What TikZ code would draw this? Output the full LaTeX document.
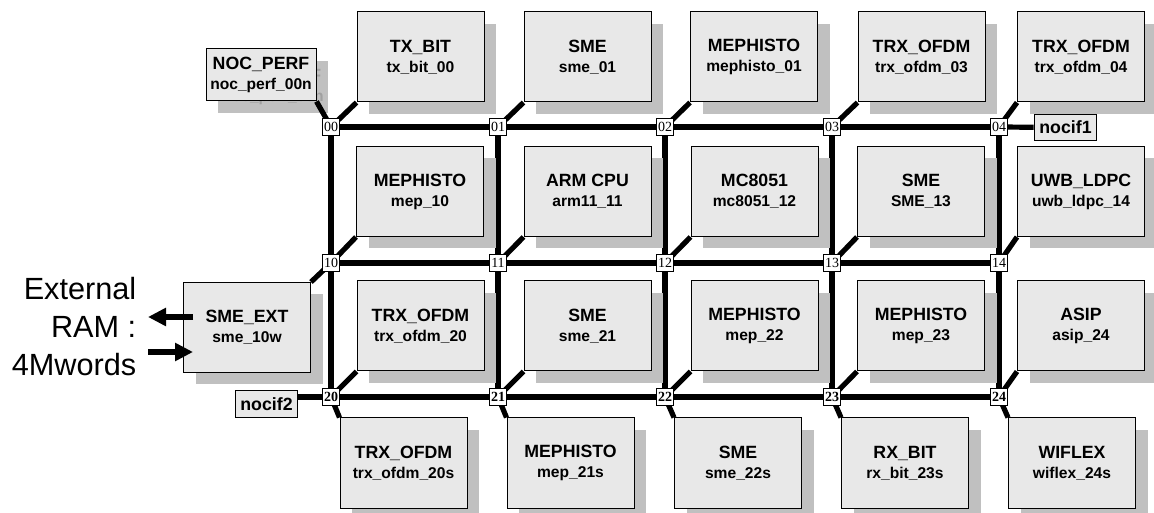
\documentclass[tikz,border=0pt]{standalone}
\usepackage{fontspec}
\setmainfont{Liberation Sans}
\newfontfamily\routerfont{Liberation Serif}
\usetikzlibrary{positioning,arrows.meta,shadows}

\definecolor{corefill}{RGB}{232,232,232}
\definecolor{shadefill}{RGB}{192,192,192}
\definecolor{ghosttext}{RGB}{160,160,160}

\newcommand\subline[1]{{\fontsize{11.7}{15}\selectfont #1}}

\tikzset{
  every core/.style={draw, line width=0.75pt, fill=corefill, minimum width=95.25pt, minimum height=67.5pt, inner sep=0pt, align=center, font=\bfseries\fontsize{13.3}{15}\selectfont, drop shadow={shadow xshift=9pt, shadow yshift=-9pt, fill=shadefill, opacity=1}},
  every router/.style={draw, line width=0.6pt, fill=white, minimum size=12.5pt, inner sep=0pt, font=\routerfont\fontsize{10.5}{10.5}\selectfont},
  router 2/.style={font=\routerfont\bfseries\fontsize{10.5}{10.5}\selectfont},
  every port/.style={draw, line width=0.75pt, fill=corefill, minimum width=47pt, minimum height=20pt, inner sep=0pt, align=center, font=\bfseries\fontsize{13.3}{15}\selectfont},
  bus/.style={line width=3.9pt},
}

\begin{document}
\begin{tikzpicture}[x=0.75pt, y=-0.75pt, >={Triangle[length=13.5pt, width=13pt]}]
\useasboundingbox (0,0) rectangle (1154,513);

\foreach \r/\y in {0/127,1/263,2/397}
  \foreach \c in {0,...,4}
    \coordinate (p-\r\c) at (331+167*\c,\y);

\foreach \r in {0,1,2}
  \draw [bus] (p-\r0) -- (p-\r4);

\foreach \c in {0,...,4}
  \draw [bus] (p-0\c) -- (p-2\c);

\foreach \t/\s/\x [count=\c from 0] in {TX\_BIT/tx\_bit\_00/420.5, SME/sme\_01/587.5, MEPHISTO/mephisto\_01/754, TRX\_OFDM/trx\_ofdm\_03/921.5, TRX\_OFDM/trx\_ofdm\_04/1081}
  \node [every core/.try] (top-\c) at (\x,57) {\t\\\subline{\s}};

\foreach \t/\s/\x [count=\c from 0] in {MEPHISTO/mep\_10/420, ARM CPU/arm11\_11/587.5, MC8051/mc8051\_12/754.5, SME/SME\_13/921, UWB\_LDPC/uwb\_ldpc\_14/1081}
  \node [every core/.try] (mid-\c) at (\x,191.5) {\t\\\subline{\s}};

\foreach \t/\s/\x [count=\c from 0] in {TRX\_OFDM/trx\_ofdm\_20/420.5, SME/sme\_21/587.5, MEPHISTO/mep\_22/754.5, MEPHISTO/mep\_23/921, ASIP/asip\_24/1081}
  \node [every core/.try] (low-\c) at (\x,326) {\t\\\subline{\s}};

\foreach \t/\s/\x [count=\c from 0] in {TRX\_OFDM/trx\_ofdm\_20s/403.5, MEPHISTO/mep\_21s/570.5, SME/sme\_22s/738, RX\_BIT/rx\_bit\_23s/905, WIFLEX/wiflex\_24s/1072}
  \node [every core/.try] (bot-\c) at (\x,463) {\t\\\subline{\s}};

\node [every core/.try] (ext) at (247,327.5) {SME\_EXT\\\subline{sme\_10w}};

\node [every port/.try, draw=none, fill=shadefill, text=ghosttext, minimum width=82.5pt, minimum height=39pt] (perf-shade) at (273,87) {NOC\_PERF\\\subline{noc\_perf\_00n}};
\node [every port/.try, minimum width=82.5pt, minimum height=39pt] (perf) at (261,75) {NOC\_PERF\\\subline{noc\_perf\_00n}};

\node [every port/.try] (nocif1) at (1065.5,127.5) {nocif1};
\node [every port/.try] (nocif2) at (266.5,404) {nocif2};

\foreach \c in {0,...,4} {
  \draw [bus] (p-0\c) -- (top-\c.south west);
  \draw [bus] (p-1\c) -- (mid-\c.south west);
  \draw [bus] (p-2\c) -- (low-\c.south west);
  \draw [bus] (p-2\c) -- (bot-\c.north west);
}
\draw [bus] (perf.south east) -- (p-00);
\draw [bus] (ext.north east) -- (p-10);
\draw [bus] (p-04) -- (nocif1);
\draw [bus] (p-20) -- (p-20 -| nocif2.east);

\foreach \r in {0,1,2}
  \foreach \c in {0,...,4}
    \node [every router/.try, router \r/.try] (r-\r\c) at (p-\r\c) {\r\c};

\node [align=right, anchor=east, font=\fontsize{23}{28.5}\selectfont] (ram) at (141,327) {External\\RAM :\\4Mwords};

\coordinate (ram-out) at (148,317);
\coordinate (ram-in) at (148,352);
\coordinate (ext-out) at (193,317);
\coordinate (ext-in) at (193,352);
\draw [->, bus] (ext-out) -- (ram-out);
\draw [->, bus] (ram-in) -- (ext-in);

\end{tikzpicture}
\end{document}
